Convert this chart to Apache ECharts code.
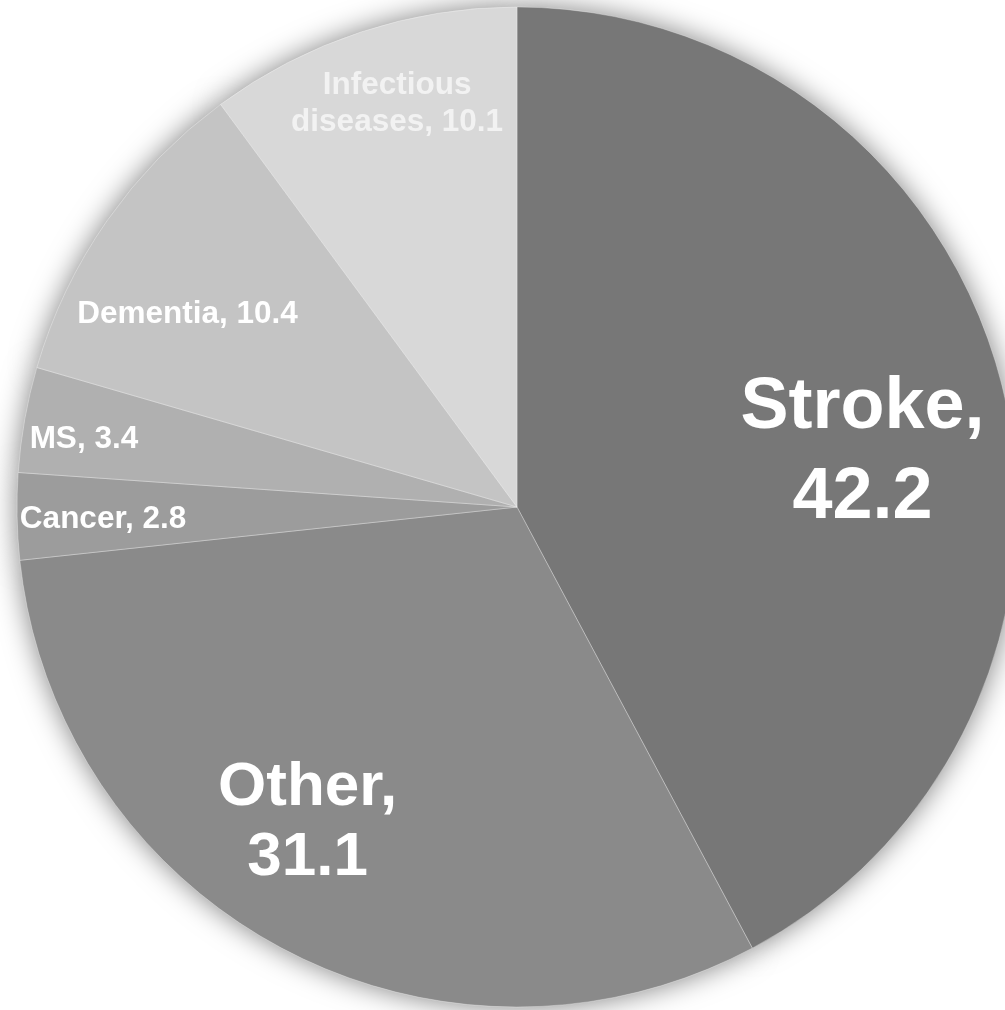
<!DOCTYPE html>
<html>
<head>
<meta charset="utf-8">
<script src="https://cdn.jsdelivr.net/npm/echarts@6/dist/echarts.min.js"></script>
<style>
  html, body { margin: 0; padding: 0; background: #fff; }
  #chart { width: 1005px; height: 1010px; }
</style>
</head>
<body>
<div id="chart"></div>
<script>
// data, clockwise from 12 o'clock
const categories = ["Stroke", "Other", "Cancer", "MS", "Dementia", "Infectious\ndiseases"];
const values = [42.2, 31.1, 2.8, 3.4, 10.4, 10.1];

const colors = ["#777777", "#8a8a8a", "#9c9c9c", "#b0b0b0", "#c4c4c4", "#d8d8d8"];
// label tweaks: [offset, fontSize, lineHeight]
const labelStyles = [
  { offset: [100, 8], fontSize: 72, lineHeight: 90, big: true },
  { offset: [-91, 92], fontSize: 62, lineHeight: 70, big: true },
  { offset: [-161, 8], fontSize: 31.5, lineHeight: 36 },
  { offset: [-184, -23], fontSize: 31.5, lineHeight: 36 },
  { offset: [-122, -48], fontSize: 31.5, lineHeight: 36 },
  { offset: [-41, -163], fontSize: 31.5, lineHeight: 37 },
];

const chart = echarts.init(document.getElementById("chart"));

const pieData = categories.map((name, i) => ({
  name: name,
  value: values[i],
  itemStyle: { color: colors[i] },
  label: {
    offset: labelStyles[i].offset,
    fontSize: labelStyles[i].fontSize,
    lineHeight: labelStyles[i].lineHeight,
    formatter: labelStyles[i].big ? "{b},\n{c}" : "{b}, {c}",
    color: i === 5 ? "#f2f2f2" : "#ffffff",
  },
}));

const common = {
  type: "pie",
  center: [517, 507],
  radius: 500,
  startAngle: 90,
  clockwise: true,
  animation: false,
  silent: true,
};

const option = {
  backgroundColor: "#ffffff",
  series: [
    {
      // same slices underneath, only to cast the soft glow round the rim
      ...common,
      z: 1,
      data: values.map((v, i) => ({ value: v, name: categories[i] })),
      itemStyle: {
        color: "#cccccc",
        shadowBlur: 28,
        shadowColor: "rgba(0,0,0,0.5)",
        borderWidth: 0,
      },
      label: { show: false },
      labelLine: { show: false },
    },
    {
      ...common,
      z: 2,
      data: pieData,
      itemStyle: {
        borderColor: "rgba(255,255,255,0.3)",
        borderWidth: 1,
      },
      label: {
        show: true,
        position: "inside",
        fontFamily: "Liberation Sans, Arial, sans-serif",
        fontWeight: "bold",
        align: "center",
      },
      labelLine: { show: false },
    },
  ],
};

chart.setOption(option);
</script>
</body>
</html>
